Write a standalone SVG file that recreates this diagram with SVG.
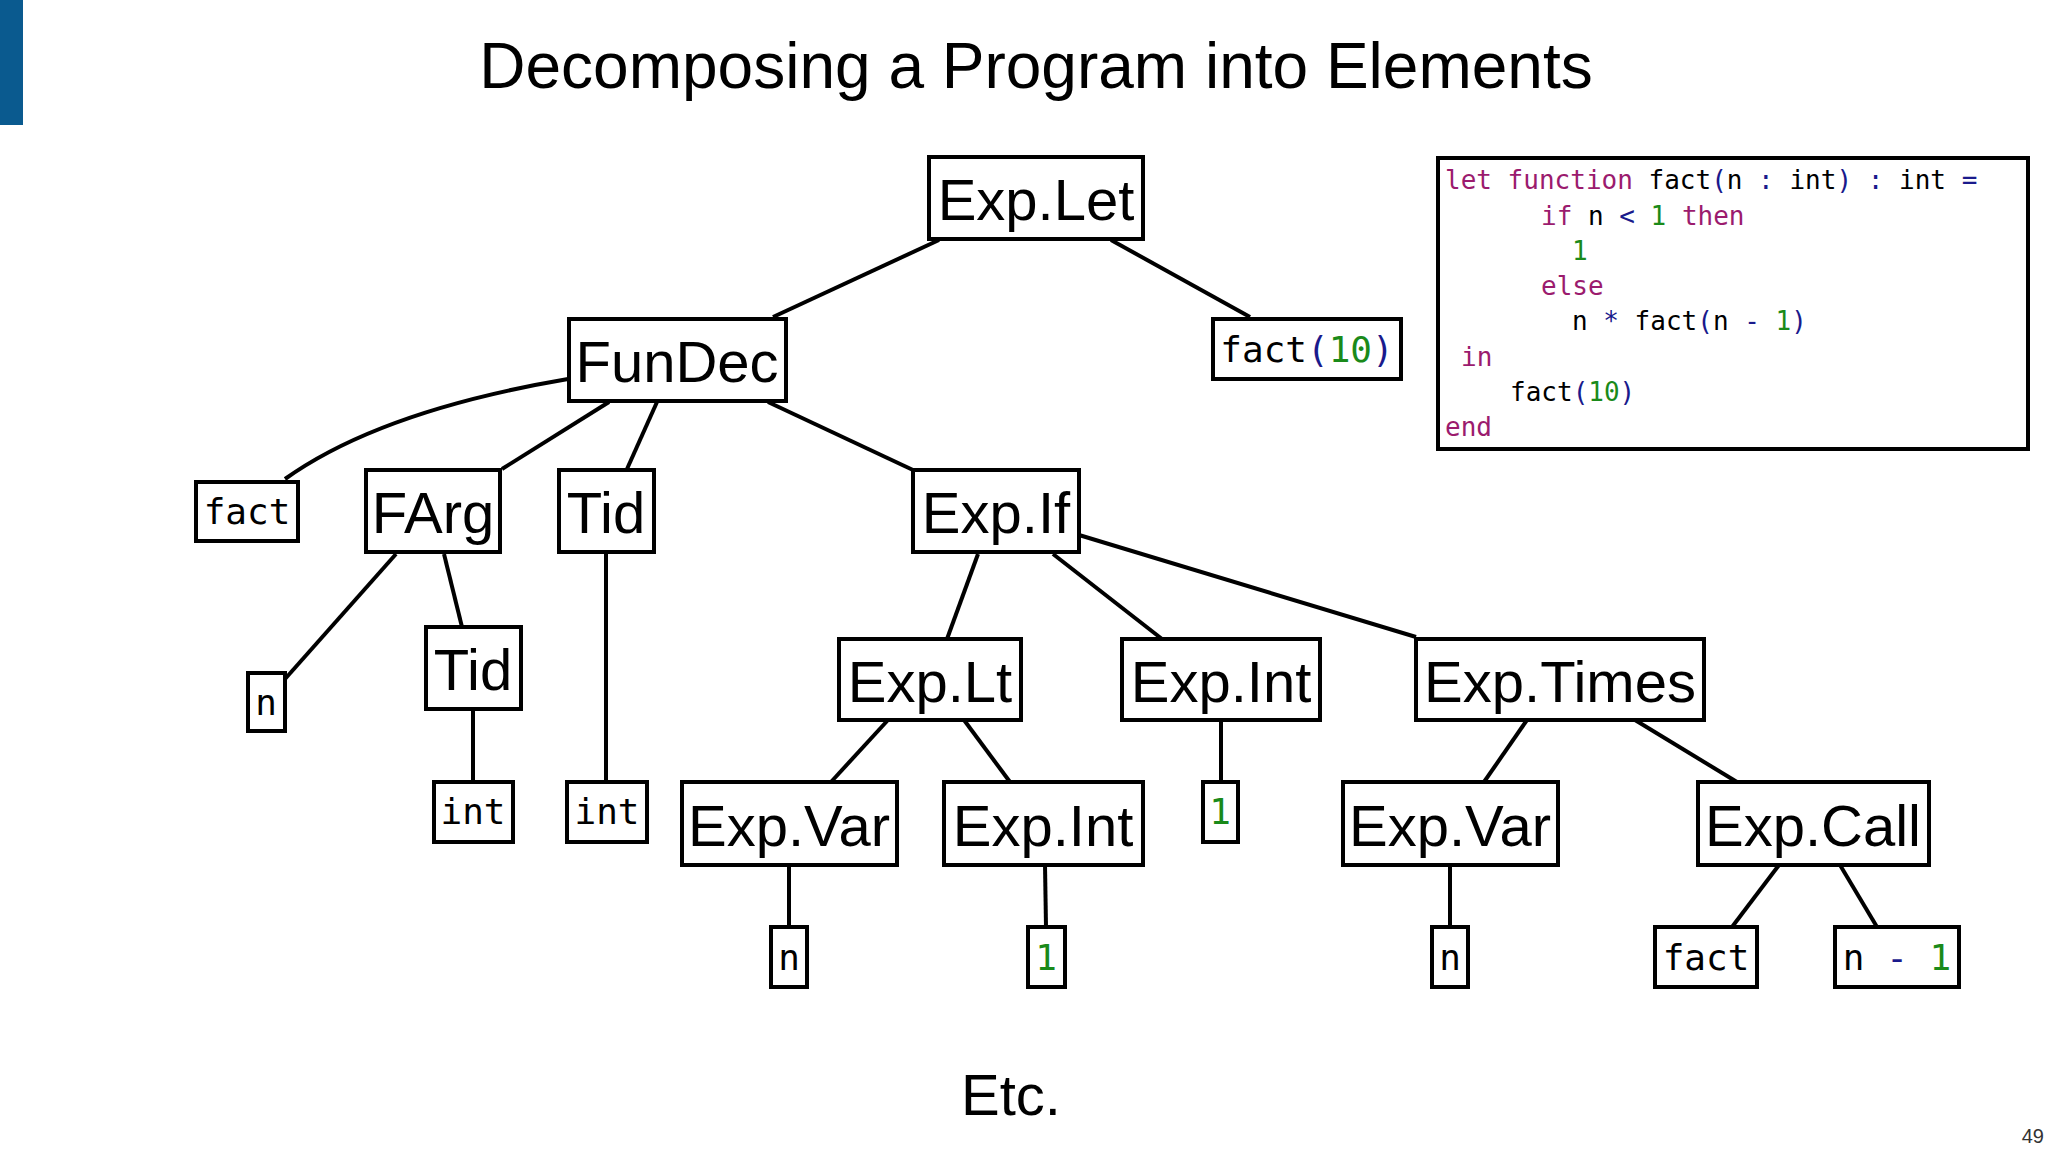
<svg xmlns="http://www.w3.org/2000/svg" width="2048" height="1152" viewBox="0 0 2048 1152">
<style>
.b{fill:#fff;stroke:#000;stroke-width:4}
.s{font-family:"Liberation Sans",Arial,sans-serif;font-size:58px;fill:#000;text-anchor:middle}
.m{font-family:"DejaVu Sans Mono","Liberation Mono",monospace;font-size:36px;fill:#000;text-anchor:middle}
.c{font-family:"DejaVu Sans Mono","Liberation Mono",monospace;font-size:26px;fill:#000}
.k{fill:#9b1b6e}.p{fill:#1a1a8c}.g{fill:#1a8a1a}
#edges path,#edges line{stroke:#000;stroke-width:4;fill:none}
</style>
<rect width="2048" height="1152" fill="#fff"/>
<rect x="0" y="0" width="23" height="125" fill="#0a5a8f"/>
<text x="1036" y="88" style="font-family:'Liberation Sans',Arial,sans-serif;font-size:64px;text-anchor:middle">Decomposing a Program into Elements</text>
<g id="edges">
<line x1="939" y1="240" x2="773" y2="317"/>
<line x1="1111" y1="240" x2="1250" y2="317"/>
<path d="M568,379 Q380,411 285,479"/>
<line x1="609" y1="402" x2="502" y2="469"/>
<line x1="657" y1="402" x2="627" y2="469"/>
<line x1="768" y1="402" x2="913" y2="470"/>
<line x1="396" y1="554" x2="285" y2="679"/>
<line x1="444" y1="554" x2="462" y2="627"/>
<line x1="606" y1="554" x2="606" y2="782"/>
<line x1="473" y1="709" x2="473" y2="782"/>
<line x1="978" y1="554" x2="947" y2="639"/>
<line x1="1053" y1="554" x2="1162" y2="639"/>
<line x1="1079" y1="535" x2="1416" y2="637"/>
<line x1="888" y1="720" x2="831" y2="782"/>
<line x1="964" y1="720" x2="1010" y2="782"/>
<line x1="1221" y1="720" x2="1221" y2="782"/>
<line x1="1527" y1="720" x2="1484" y2="782"/>
<line x1="1635" y1="720" x2="1737" y2="782"/>
<line x1="789" y1="865" x2="789" y2="927"/>
<line x1="1045" y1="865" x2="1046" y2="927"/>
<line x1="1450" y1="865" x2="1450" y2="927"/>
<line x1="1779" y1="865" x2="1732" y2="927"/>
<line x1="1840" y1="865" x2="1877" y2="927"/>
</g>
<g id="explet"><rect class="b" x="929" y="157" width="214" height="82"/><text class="s" x="1036" y="220">Exp.Let</text></g>
<g id="fact10"><rect class="b" x="1213" y="319" width="188" height="60"/><text class="m" x="1307" y="362">fact<tspan class="p">(</tspan><tspan class="g">10</tspan><tspan class="p">)</tspan></text></g>
<g id="fundec"><rect class="b" x="569" y="319" width="217" height="82"/><text class="s" x="677" y="382">FunDec</text></g>
<g id="fact1"><rect class="b" x="196" y="482" width="102" height="59"/><text class="m" x="247" y="524">fact</text></g>
<g id="farg"><rect class="b" x="366" y="470" width="134" height="82"/><text class="s" x="433" y="533">FArg</text></g>
<g id="tid1"><rect class="b" x="559" y="470" width="95" height="82"/><text class="s" x="606" y="533">Tid</text></g>
<g id="expif"><rect class="b" x="913" y="470" width="166" height="82"/><text class="s" x="996" y="533">Exp.If</text></g>
<g id="n1"><rect class="b" x="248" y="673" width="37" height="58"/><text class="m" x="266" y="715">n</text></g>
<g id="tid2"><rect class="b" x="426" y="627" width="95" height="82"/><text class="s" x="473" y="690">Tid</text></g>
<g id="int1"><rect class="b" x="434" y="782" width="79" height="60"/><text class="m" x="473" y="824">int</text></g>
<g id="int2"><rect class="b" x="567" y="782" width="80" height="60"/><text class="m" x="607" y="824">int</text></g>
<g id="explt"><rect class="b" x="839" y="639" width="182" height="81"/><text class="s" x="930" y="702">Exp.Lt</text></g>
<g id="expint1"><rect class="b" x="1122" y="639" width="198" height="81"/><text class="s" x="1221" y="702">Exp.Int</text></g>
<g id="exptimes"><rect class="b" x="1416" y="639" width="288" height="81"/><text class="s" x="1560" y="702">Exp.Times</text></g>
<g id="expvar1"><rect class="b" x="682" y="782" width="215" height="83"/><text class="s" x="789" y="846">Exp.Var</text></g>
<g id="expint2"><rect class="b" x="944" y="782" width="199" height="83"/><text class="s" x="1043" y="846">Exp.Int</text></g>
<g id="one1"><rect class="b" x="1203" y="782" width="35" height="60"/><text class="m g" x="1220" y="824">1</text></g>
<g id="expvar2"><rect class="b" x="1343" y="782" width="215" height="83"/><text class="s" x="1450" y="846">Exp.Var</text></g>
<g id="expcall"><rect class="b" x="1698" y="782" width="231" height="83"/><text class="s" x="1813" y="846">Exp.Call</text></g>
<g id="n2"><rect class="b" x="771" y="927" width="36" height="60"/><text class="m" x="789" y="970">n</text></g>
<g id="one2"><rect class="b" x="1028" y="927" width="37" height="60"/><text class="m g" x="1046" y="970">1</text></g>
<g id="n3"><rect class="b" x="1432" y="927" width="36" height="60"/><text class="m" x="1450" y="970">n</text></g>
<g id="fact2"><rect class="b" x="1655" y="927" width="102" height="60"/><text class="m" x="1706" y="970">fact</text></g>
<g id="nminus1"><rect class="b" x="1835" y="927" width="124" height="60"/><text class="m" x="1897" y="970">n <tspan class="p">-</tspan> <tspan class="g">1</tspan></text></g>
<g id="code">
<rect class="b" x="1438" y="158" width="590" height="291"/>
<text class="c" xml:space="preserve" x="1445" y="189"><tspan class="k">let function</tspan> fact<tspan class="p">(</tspan>n <tspan class="p">:</tspan> int<tspan class="p">)</tspan> <tspan class="p">:</tspan> int <tspan class="p">=</tspan></text>
<text class="c" xml:space="preserve" x="1541" y="225"><tspan class="k">if</tspan> n <tspan class="p">&lt;</tspan> <tspan class="g">1</tspan> <tspan class="k">then</tspan></text>
<text class="c g" x="1572" y="260">1</text>
<text class="c k" x="1541" y="295">else</text>
<text class="c" xml:space="preserve" x="1572" y="330">n <tspan class="p">*</tspan> fact<tspan class="p">(</tspan>n <tspan class="p">-</tspan> <tspan class="g">1</tspan><tspan class="p">)</tspan></text>
<text class="c k" x="1461" y="366">in</text>
<text class="c" x="1510" y="401">fact<tspan class="p">(</tspan><tspan class="g">10</tspan><tspan class="p">)</tspan></text>
<text class="c k" x="1445" y="436">end</text>
</g>
<text x="1011" y="1115" style="font-family:'Liberation Sans',Arial,sans-serif;font-size:58px;text-anchor:middle">Etc.</text>
<text x="2044" y="1143" style="font-family:'Liberation Sans',Arial,sans-serif;font-size:20px;text-anchor:end;fill:#333">49</text>
</svg>
